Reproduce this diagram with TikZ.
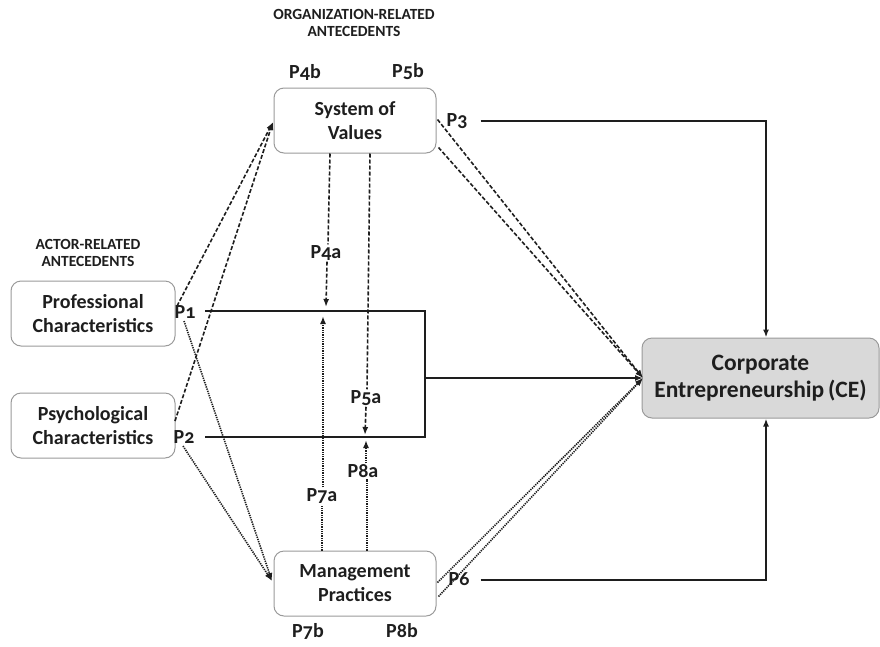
\documentclass[tikz,border=0pt]{standalone}
\usepackage{fontspec}
\setmainfont{Carlito}[Numbers=OldStyle]
\usetikzlibrary{arrows.meta,calc}
\definecolor{ink}{HTML}{1E1E1E}
\definecolor{boxline}{HTML}{9A9A9A}
\definecolor{cefill}{HTML}{D9D9D9}
\begin{document}
\begin{tikzpicture}[x=1pt,y=-1pt,
  every node/.style={text=ink, font=\bfseries},
  cbox/.style={draw=boxline, line width=1pt, rounded corners=10pt, align=center,
    inner sep=0pt, font=\fontsize{20}{24}\selectfont\bfseries},
  plabel/.style={font=\fontsize{20}{22}\selectfont\bfseries, inner sep=1pt},
  title/.style={font=\fontsize{15.5}{17}\selectfont\bfseries, align=center},
  solidline/.style={draw=ink, line width=2pt},
  dashline/.style={draw=ink, line width=1.6pt, dash pattern=on 4pt off 2pt},
  dotline/.style={draw=ink, line width=1.6pt, dash pattern=on 1.3pt off 1pt},
  tip/.style={-{Latex[length=8pt,width=6pt]}}
]
\useasboundingbox (0,0) rectangle (880,646);

% boxes
\node[cbox, minimum width=164pt, minimum height=65pt] (prof) at (93,313.5) {Professional\\Characteristics};
\node[cbox, minimum width=164pt, minimum height=65pt] (psych) at (93,425.5) {Psychological\\Characteristics};
\node[cbox, minimum width=162pt, minimum height=65pt] (sov) at (355,120.5) {System of\\Values};
\node[cbox, minimum width=162pt, minimum height=65pt] (mp) at (355,583.5) {Management\\Practices};
\node[cbox, fill=cefill, minimum width=237pt, minimum height=80pt,
  font=\fontsize{23.5}{27}\selectfont\bfseries] (ce) at (760.5,378) {Corporate\\Entrepreneurship\,(CE)};

% titles
\node[title] (torg) at (354,23) {ORGANIZATION-RELATED\\ANTECEDENTS};
\node[title] (tact) at (88,253) {ACTOR-RELATED\\ANTECEDENTS};

% P labels
\node[plabel] (P1) at (185,312) {P1};
\node[plabel] (P2) at (184,437) {P2};
\node[plabel] (P3) at (457,121) {P3};
\node[plabel] (P6) at (459,579) {P6};
\node[plabel] (P4b) at (305,72) {P4b};
\node[plabel] (P5b) at (408,72) {P5b};
\node[plabel] (P7b) at (308,631) {P7b};
\node[plabel] (P8b) at (402,631) {P8b};
\node[plabel] (P4a) at (326,253) {P4a};
\node[plabel] (P5a) at (366,398) {P5a};
\node[plabel] (P8a) at (363,471) {P8a};
\node[plabel] (P7a) at (322,496) {P7a};

% coordinates
\coordinate (ceL) at (643,378);
\coordinate (sovL) at (273,122);
\coordinate (mpL) at (272,581);
\coordinate (p1a) at (177,306);
\coordinate (p2a) at (175,421);
\coordinate (p1b) at (184,321);
\coordinate (p2b) at (183,446);
\coordinate (r1) at (205,311);
\coordinate (r2) at (425,311);
\coordinate (r3) at (425,437);
\coordinate (r4) at (205,437);
\coordinate (rm) at (425,378);
\coordinate (p3c) at (766,121);
\coordinate (p6c) at (766,580);

% solid structure
\draw[solidline] (r1) -- (r2) -- (r3) -- (r4);
\draw[solidline, tip] (rm) -- (ceL);
\draw[solidline, tip] (P3.east) ++(12,0) -- (p3c) -- (p3c |- ce.north);
\draw[solidline, tip] (P6.east) ++(10,1) -- (p6c) -- (p6c |- ce.south);

% actor -> system of values (dashed)
\draw[dashline, tip] (p1a) -- (sovL);
\draw[dashline, tip] (p2a) -- (sovL);
% actor -> management practices (dotted)
\draw[dotline, tip] (p1b) -- (mpL);
\draw[dotline, tip] (p2b) -- (mpL);

% system of values -> CE (dashed)
\draw[dashline, tip] ($(sov.east)+(1,-1)$) -- (ceL);
\draw[dashline, tip] ($(sov.east)+(2,27)$) -- (ceL);
% management practices -> CE (dotted)
\draw[dotline, tip] ($(mp.east)+(1,-1)$) -- (ceL);
\draw[dotline, tip] ($(mp.east)+(2,13)$) -- (ceL);

% vertical moderators
\draw[dashline] (sov.south -| 330,0) -- (P4a.north -| 328,0);
\draw[dashline, tip] (P4a.south -| 327,0) -- (326,307);
\draw[dashline] (sov.south -| 370,0) -- (P5a.north -| 367,0);
\draw[dashline, tip] (P5a.south -| 366,0) -- (365,435);
\draw[dotline] (mp.north -| 322,0) -- (P7a.south -| 322,0);
\draw[dotline, tip] (P7a.north -| 323,0) -- (323,316);
\draw[dotline] (mp.north -| 367,0) -- (P8a.south -| 367,0);
\draw[dotline, tip] (P8a.north -| 366,0) -- (366,440);
\end{tikzpicture}
\end{document}
